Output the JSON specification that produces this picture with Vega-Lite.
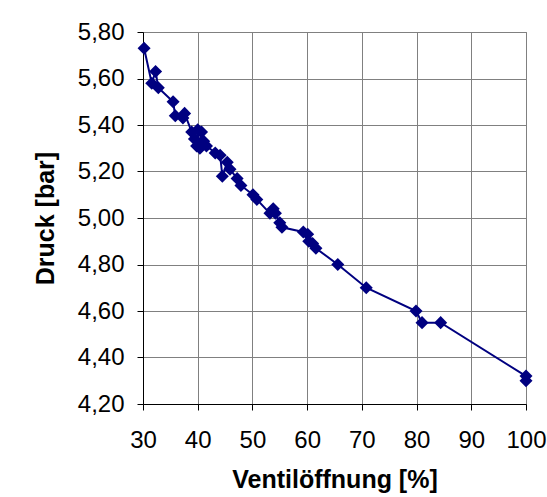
{
  "$schema": "https://vega.github.io/schema/vega-lite/v6.json",
  "width": 383,
  "height": 372,
  "autosize": "none",
  "padding": {"left": 143, "top": 32, "right": 21, "bottom": 93},
  "background": "white",
  "config": {
    "font": "Liberation Sans",
    "view": {"stroke": "#808080", "strokeWidth": 1},
    "axis": {
      "gridColor": "#808080",
      "gridWidth": 1,
      "gridOpacity": 1,
      "domainColor": "#000000",
      "domainWidth": 1,
      "tickColor": "#000000",
      "tickSize": 6,
      "labelFont": "Liberation Sans",
      "labelFontSize": 24,
      "labelColor": "#000000",
      "labelFlush": false,
      "labelOverlap": false,
      "titleFont": "Liberation Sans",
      "titleFontSize": 25,
      "titleFontWeight": "bold",
      "titleColor": "#000000"
    }
  },
  "data": {
    "values": [
      {"v": 30.2, "p": 5.73},
      {"v": 31.6, "p": 5.58},
      {"v": 32.3, "p": 5.63},
      {"v": 32.8, "p": 5.56},
      {"v": 35.5, "p": 5.50},
      {"v": 35.9, "p": 5.44},
      {"v": 37.3, "p": 5.43},
      {"v": 37.6, "p": 5.45},
      {"v": 38.9, "p": 5.37},
      {"v": 39.4, "p": 5.34},
      {"v": 39.8, "p": 5.31},
      {"v": 40.0, "p": 5.38},
      {"v": 40.4, "p": 5.30},
      {"v": 40.7, "p": 5.37},
      {"v": 41.1, "p": 5.33},
      {"v": 41.6, "p": 5.31},
      {"v": 43.2, "p": 5.28},
      {"v": 44.1, "p": 5.27},
      {"v": 44.5, "p": 5.18},
      {"v": 45.4, "p": 5.24},
      {"v": 45.9, "p": 5.21},
      {"v": 47.2, "p": 5.17},
      {"v": 47.9, "p": 5.14},
      {"v": 50.1, "p": 5.10},
      {"v": 50.8, "p": 5.08},
      {"v": 53.2, "p": 5.02},
      {"v": 53.8, "p": 5.04},
      {"v": 54.2, "p": 5.02},
      {"v": 55.0, "p": 4.98},
      {"v": 55.4, "p": 4.96},
      {"v": 59.3, "p": 4.94},
      {"v": 60.1, "p": 4.93},
      {"v": 60.3, "p": 4.90},
      {"v": 61.0, "p": 4.89},
      {"v": 61.6, "p": 4.87},
      {"v": 65.6, "p": 4.80},
      {"v": 70.8, "p": 4.70},
      {"v": 79.9, "p": 4.60},
      {"v": 81.0, "p": 4.55},
      {"v": 84.4, "p": 4.55},
      {"v": 100.0, "p": 4.32},
      {"v": 100.0, "p": 4.30}
    ]
  },
  "encoding": {
    "x": {
      "field": "v",
      "type": "quantitative",
      "scale": {"domain": [30, 100], "nice": false, "zero": false},
      "axis": {
        "title": "Ventilöffnung [%]",
        "values": [30, 40, 50, 60, 70, 80, 90, 100],
        "labelPadding": 18,
        "titleY": 83,
        "titleBaseline": "alphabetic"
      }
    },
    "y": {
      "field": "p",
      "type": "quantitative",
      "scale": {"domain": [4.2, 5.8], "nice": false, "zero": false},
      "axis": {
        "title": "Druck [bar]",
        "values": [4.2, 4.4, 4.6, 4.8, 5.0, 5.2, 5.4, 5.6, 5.8],
        "labelExpr": "replace(format(datum.value, '.2f'), '.', ',')",
        "labelPadding": 13,
        "titleX": -90,
        "titleBaseline": "alphabetic"
      }
    }
  },
  "layer": [
    {
      "mark": {"type": "line", "color": "#000080", "strokeWidth": 2}
    },
    {
      "mark": {"type": "point", "shape": "diamond", "filled": true, "color": "#000080", "opacity": 1, "size": 170}
    }
  ]
}
